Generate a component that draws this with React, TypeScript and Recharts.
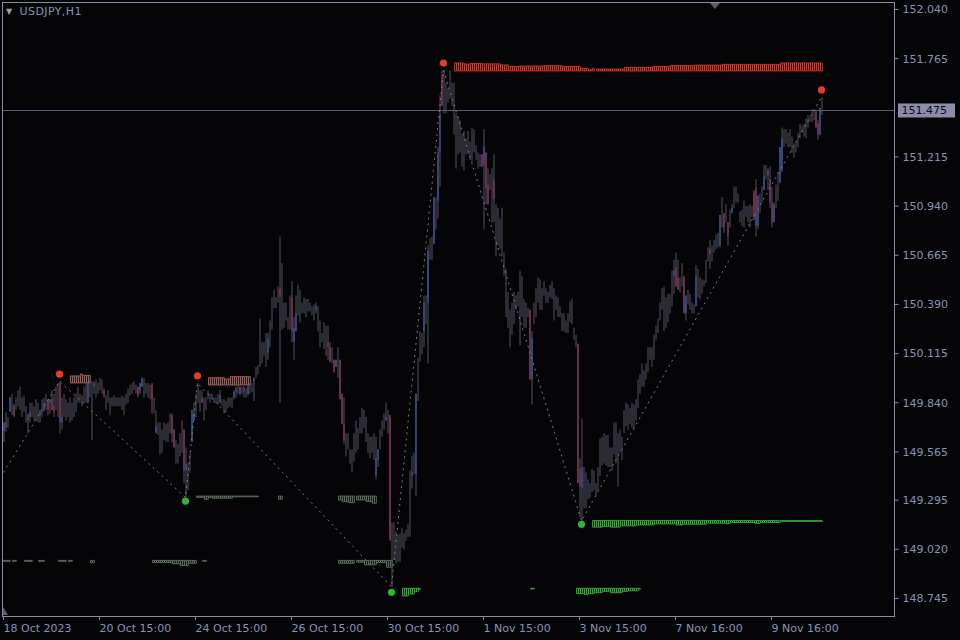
import React from 'react';
import { ComposedChart, Bar, Line, Scatter, XAxis, YAxis, ReferenceLine } from 'recharts';

// USDJPY H1, one entry per bar (18 Oct 15:00 .. 10 Nov)
const highs = [
  149.73, 149.79, 149.76, 149.87, 149.89, 149.83, 149.87, 149.91, 149.93, 149.87,
  149.88, 149.82, 149.78, 149.84, 149.84, 149.82, 149.86, 149.84, 149.80, 149.86,
  149.87, 149.89, 149.86, 149.86, 149.91, 149.89, 149.93, 149.95, 149.96, 149.87,
  149.89, 149.86, 149.84, 149.87, 149.84, 149.87, 149.89, 149.93, 149.89, 149.88,
  149.93, 149.95, 149.95, 149.98, 149.96, 149.96, 149.97, 149.95, 149.98, 149.97,
  149.92, 149.88, 149.91, 149.87, 149.87, 149.88, 149.87, 149.87, 149.87, 149.88,
  149.87, 149.89, 149.92, 149.94, 149.95, 149.96, 149.94, 149.93, 149.95, 149.98,
  149.98, 149.95, 149.95, 149.94, 149.94, 149.87, 149.80, 149.73, 149.73, 149.69,
  149.73, 149.72, 149.73, 149.78, 149.77, 149.69, 149.63, 149.61, 149.67, 149.74,
  149.69, 149.59, 149.50, 149.56, 149.80, 149.84, 149.89, 149.95, 149.91, 149.91,
  149.87, 149.87, 149.91, 149.89, 149.89, 149.87, 149.87, 149.89, 149.91, 149.86,
  149.86, 149.85, 149.87, 149.87, 149.87, 149.91, 149.92, 149.94, 149.93, 149.93,
  149.93, 149.92, 149.93, 149.95, 149.95, 149.98, 150.04, 150.05, 150.31, 150.18,
  150.18, 150.23, 150.23, 150.30, 150.43, 150.47, 150.43, 150.49, 150.77, 150.62,
  150.40, 150.40, 150.32, 150.44, 150.52, 150.32, 150.44, 150.50, 150.47, 150.40,
  150.43, 150.42, 150.42, 150.40, 150.38, 150.39, 150.40, 150.38, 150.30, 150.23,
  150.29, 150.27, 150.27, 150.18, 150.15, 150.08, 150.08, 150.15, 150.08, 149.89,
  149.87, 149.67, 149.67, 149.58, 149.58, 149.67, 149.74, 149.70, 149.76, 149.81,
  149.80, 149.76, 149.67, 149.65, 149.65, 149.67, 149.65, 149.58, 149.69, 149.74,
  149.78, 149.84, 149.80, 149.77, 149.17, 149.17, 149.12, 149.10, 149.11, 149.14,
  149.11, 149.13, 149.16, 149.46, 149.54, 149.56, 149.89, 150.09, 150.24, 150.23,
  150.44, 150.44, 150.72, 150.76, 150.77, 150.99, 150.99, 151.27, 151.56, 151.70,
  151.70, 151.63, 151.60, 151.70, 151.63, 151.63, 151.46, 151.44, 151.42, 151.34,
  151.36, 151.32, 151.36, 151.30, 151.38, 151.37, 151.28, 151.24, 151.23, 151.23,
  151.37, 151.24, 151.15, 151.12, 151.15, 151.23, 150.95, 150.93, 150.87, 150.93,
  150.68, 150.59, 150.46, 150.36, 150.40, 150.46, 150.44, 150.46, 150.58, 150.55,
  150.42, 150.40, 150.37, 150.36, 150.24, 150.40, 150.48, 150.54, 150.53, 150.48,
  150.52, 150.48, 150.46, 150.50, 150.52, 150.48, 150.44, 150.43, 150.38, 150.34,
  150.34, 150.30, 150.34, 150.41, 150.42, 150.26, 150.22, 150.17, 149.53, 149.75,
  149.48, 149.45, 149.41, 149.39, 149.47, 149.46, 149.39, 149.48, 149.64, 149.65,
  149.67, 149.66, 149.66, 149.59, 149.59, 149.73, 149.73, 149.67, 149.69, 149.65,
  149.80, 149.84, 149.83, 149.81, 149.84, 149.83, 149.86, 149.97, 150.00, 150.06,
  150.02, 150.06, 150.15, 150.15, 150.15, 150.22, 150.27, 150.31, 150.40, 150.48,
  150.49, 150.43, 150.45, 150.45, 150.58, 150.64, 150.68, 150.64, 150.54, 150.62,
  150.55, 150.44, 150.47, 150.45, 150.40, 150.39, 150.61, 150.59, 150.54, 150.53,
  150.53, 150.64, 150.71, 150.75, 150.72, 150.75, 150.78, 150.79, 150.89, 150.99,
  150.90, 150.95, 150.85, 150.92, 150.95, 151.05, 151.05, 151.01, 150.91, 150.92,
  150.97, 150.94, 150.94, 150.95, 150.94, 151.03, 151.09, 151.00, 151.01, 151.05,
  151.17, 151.17, 151.15, 151.16, 151.05, 150.96, 151.06, 151.13, 151.27, 151.38,
  151.37, 151.37, 151.35, 151.37, 151.33, 151.29, 151.30, 151.35, 151.40, 151.39,
  151.40, 151.43, 151.45, 151.44, 151.48, 151.48, 151.47, 151.42, 151.49, 151.55,
];

const lows = [
  149.62, 149.68, 149.70, 149.79, 149.77, 149.76, 149.80, 149.82, 149.80, 149.76,
  149.79, 149.73, 149.67, 149.73, 149.76, 149.74, 149.74, 149.73, 149.73, 149.76,
  149.79, 149.80, 149.77, 149.78, 149.80, 149.76, 149.80, 149.76, 149.67, 149.69,
  149.76, 149.74, 149.76, 149.73, 149.74, 149.76, 149.79, 149.84, 149.84, 149.82,
  149.84, 149.84, 149.84, 149.87, 149.63, 149.89, 149.87, 149.89, 149.91, 149.89,
  149.87, 149.80, 149.84, 149.77, 149.82, 149.82, 149.82, 149.82, 149.82, 149.80,
  149.77, 149.83, 149.84, 149.88, 149.89, 149.91, 149.89, 149.87, 149.89, 149.93,
  149.87, 149.89, 149.87, 149.86, 149.86, 149.78, 149.67, 149.66, 149.55, 149.56,
  149.63, 149.62, 149.62, 149.67, 149.62, 149.59, 149.50, 149.50, 149.54, 149.56,
  149.39, 149.31, 149.35, 149.45, 149.62, 149.74, 149.76, 149.84, 149.79, 149.84,
  149.74, 149.80, 149.86, 149.84, 149.86, 149.84, 149.84, 149.83, 149.84, 149.82,
  149.78, 149.79, 149.81, 149.82, 149.81, 149.86, 149.87, 149.89, 149.88, 149.89,
  149.87, 149.87, 149.88, 149.89, 149.90, 149.85, 149.98, 150.00, 150.04, 150.06,
  150.10, 150.04, 150.08, 150.15, 150.25, 150.37, 150.37, 150.40, 149.84, 150.25,
  150.26, 150.30, 150.25, 150.25, 150.18, 150.08, 150.24, 150.33, 150.29, 150.34,
  150.34, 150.32, 150.35, 150.35, 150.33, 150.30, 150.34, 150.24, 150.15, 150.18,
  150.14, 150.10, 150.08, 150.07, 150.06, 150.01, 150.04, 149.98, 149.86, 149.72,
  149.61, 149.54, 149.58, 149.50, 149.45, 149.51, 149.56, 149.58, 149.67, 149.67,
  149.70, 149.62, 149.56, 149.53, 149.56, 149.52, 149.41, 149.48, 149.58, 149.65,
  149.69, 149.74, 149.67, 149.07, 148.81, 148.96, 148.94, 148.95, 148.95, 149.03,
  149.02, 149.07, 149.09, 149.09, 149.36, 149.44, 149.32, 149.85, 150.07, 150.11,
  150.15, 150.28, 150.06, 150.64, 150.64, 150.73, 150.81, 150.87, 151.05, 151.50,
  151.46, 151.46, 151.52, 151.54, 151.50, 151.34, 151.15, 151.23, 151.24, 151.16,
  151.14, 151.23, 151.23, 151.20, 151.19, 151.24, 151.20, 151.15, 151.16, 151.16,
  150.81, 150.95, 150.95, 151.03, 150.85, 150.85, 150.66, 150.72, 150.70, 150.66,
  150.55, 150.32, 150.26, 150.15, 150.22, 150.28, 150.36, 150.38, 150.16, 150.32,
  150.26, 150.26, 150.32, 149.97, 149.83, 150.28, 150.32, 150.40, 150.36, 150.36,
  150.44, 150.40, 150.40, 150.43, 150.42, 150.30, 150.36, 150.32, 150.32, 150.24,
  150.24, 150.23, 150.23, 150.29, 150.28, 150.19, 150.15, 149.39, 149.20, 149.18,
  149.25, 149.25, 149.30, 149.31, 149.34, 149.35, 149.32, 149.35, 149.43, 149.49,
  149.50, 149.49, 149.48, 149.48, 149.46, 149.55, 149.50, 149.37, 149.56, 149.52,
  149.67, 149.71, 149.69, 149.72, 149.70, 149.69, 149.74, 149.81, 149.89, 149.93,
  149.93, 149.97, 150.01, 150.08, 150.04, 150.08, 150.19, 150.23, 150.30, 150.36,
  150.24, 150.26, 150.29, 150.34, 150.38, 150.45, 150.49, 150.47, 150.46, 150.49,
  150.34, 150.30, 150.39, 150.36, 150.34, 150.34, 150.38, 150.43, 150.42, 150.45,
  150.49, 150.51, 150.63, 150.59, 150.63, 150.68, 150.70, 150.71, 150.71, 150.82,
  150.79, 150.85, 150.72, 150.82, 150.90, 150.93, 150.96, 150.96, 150.85, 150.83,
  150.82, 150.88, 150.85, 150.82, 150.88, 150.86, 150.77, 150.81, 150.90, 150.96,
  151.03, 151.09, 151.03, 150.93, 150.82, 150.85, 150.93, 150.97, 151.07, 151.13,
  151.27, 151.29, 151.27, 151.27, 151.24, 151.21, 151.24, 151.27, 151.32, 151.35,
  151.33, 151.32, 151.38, 151.41, 151.41, 151.42, 151.38, 151.31, 151.34, 151.45,
];

// coloured parts of some bars: [bar, from, to]
const downBodies = [
  [1, 149.70, 149.73], [5, 149.77, 149.83], [12, 149.74, 149.77], [22, 149.80, 149.86],
  [24, 149.80, 149.86], [25, 149.79, 149.82], [28, 149.73, 149.95], [45, 149.93, 149.95],
  [50, 149.88, 149.91], [67, 149.88, 149.93], [74, 149.78, 149.95], [84, 149.67, 149.78],
  [85, 149.59, 149.69], [90, 149.46, 149.69], [99, 149.84, 149.87], [116, 149.90, 149.93],
  [120, 149.90, 149.93], [138, 150.43, 150.48], [144, 150.24, 150.43], [162, 150.15, 150.18],
  [163, 150.07, 150.15], [165, 150.01, 150.08], [168, 149.86, 150.08], [169, 149.72, 149.89],
  [170, 149.63, 149.72], [193, 149.07, 149.77], [204, 149.43, 149.45], [219, 151.50, 151.67],
  [239, 151.16, 151.23], [241, 151.04, 151.24], [242, 150.95, 151.06], [245, 150.98, 151.09],
  [263, 149.97, 150.36], [287, 149.39, 150.17], [288, 149.37, 149.47], [336, 150.49, 150.60],
  [337, 150.47, 150.54], [340, 150.34, 150.54], [353, 150.67, 150.70], [360, 150.82, 150.90],
  [362, 150.77, 150.85], [375, 150.87, 151.02], [376, 150.90, 151.04], [382, 151.11, 151.14],
  [383, 150.96, 151.09], [384, 150.85, 150.96], [406, 151.38, 151.47], [407, 151.34, 151.40],
];
const upBodies = [
  [0, 149.68, 149.73], [3, 149.79, 149.87], [13, 149.76, 149.79], [18, 149.77, 149.79],
  [20, 149.80, 149.84], [23, 149.84, 149.86], [29, 149.73, 149.76], [42, 149.84, 149.95],
  [68, 149.91, 149.95], [69, 149.93, 149.98], [76, 149.67, 149.71], [91, 149.46, 149.50],
  [94, 149.62, 149.80], [95, 149.74, 149.78], [108, 149.84, 149.88], [115, 149.87, 149.90],
  [118, 149.89, 149.93], [122, 149.89, 149.94], [125, 149.96, 149.98], [132, 150.12, 150.20],
  [145, 150.18, 150.26], [146, 150.24, 150.34], [156, 150.36, 150.38], [166, 150.04, 150.08],
  [186, 149.43, 149.53], [187, 149.52, 149.58], [191, 149.74, 149.76], [206, 149.44, 149.89],
  [210, 150.24, 150.40], [212, 150.40, 150.69], [215, 150.73, 150.99], [217, 150.97, 151.24],
  [218, 151.24, 151.45], [240, 151.17, 151.27], [264, 149.97, 150.20], [289, 149.36, 149.48],
  [335, 150.55, 150.58], [341, 150.34, 150.44], [346, 150.38, 150.55], [358, 150.72, 150.89],
  [364, 150.90, 150.93], [376, 150.83, 150.90], [377, 150.83, 151.00], [380, 151.03, 151.11],
  [385, 150.85, 150.95], [388, 151.07, 151.27], [389, 151.14, 151.32], [408, 151.34, 151.49],
];

// zigzag swings
const swingBars = [0, 28, 91, 97, 194, 220, 289, 409];
const swingPrices = [149.45, 149.96, 149.31, 149.95, 148.81, 151.70, 149.18, 151.55];

const sellBars = [28, 97, 220, 409];
const sellPrices = [150.0, 149.99, 151.74, 151.59];
const buyBars = [91, 194, 289];
const buyPrices = [149.29, 148.78, 149.16];

// level histograms: [fromBar, toBar, edge]
const resistBase = 151.696;
const resistRuns = [
  [226, 230, 151.741], [231, 233, 151.735], [234, 239, 151.738], [240, 248, 151.736],
  [249, 252, 151.73], [253, 258, 151.722], [259, 270, 151.724], [271, 279, 151.726],
  [280, 288, 151.722], [289, 292, 151.711], [293, 294, 151.703], [295, 295, 151.711],
  [297, 310, 151.707], [311, 324, 151.716], [325, 333, 151.722], [334, 345, 151.727],
  [346, 359, 151.729], [360, 388, 151.733], [389, 409, 151.741],
];
const supportBase = 149.181;
const supportRuns = [
  [295, 299, 149.144], [300, 303, 149.147], [304, 308, 149.144], [309, 316, 149.151],
  [317, 325, 149.156], [326, 336, 149.162], [337, 339, 149.156], [340, 351, 149.16],
  [352, 361, 149.166], [362, 363, 149.163], [364, 375, 149.17], [376, 378, 149.165],
  [379, 388, 149.17], [389, 409, 149.176],
];
const floorBase = 148.802;
const floorRuns = [
  [200, 202, 148.759], [203, 205, 148.77], [206, 207, 148.783], [208, 208, 148.795],
  [264, 265, 148.798], [287, 290, 148.772], [291, 292, 148.768], [293, 295, 148.772],
  [296, 299, 148.777], [300, 303, 148.785], [304, 309, 148.777], [310, 312, 148.785],
  [313, 317, 148.788], [318, 318, 148.797],
];
const oldSupportBase = 149.318;
const oldSupportRuns = [
  [97, 100, 149.311], [101, 102, 149.3], [103, 104, 149.311], [105, 114, 149.306],
  [115, 127, 149.314], [138, 139, 149.3], [168, 169, 149.296], [170, 172, 149.287],
  [173, 175, 149.281], [177, 181, 149.296], [182, 184, 149.287], [185, 186, 149.278],
];
const oldFloorBase = 148.958;
const oldFloorRuns = [
  [0, 3, 148.953], [5, 6, 148.953], [11, 14, 148.953], [18, 20, 148.953], [28, 31, 148.953],
  [33, 34, 148.953], [44, 45, 148.945], [75, 84, 148.946], [85, 88, 148.939], [89, 92, 148.929],
  [93, 96, 148.942], [100, 101, 148.953], [168, 175, 148.942], [177, 180, 148.948],
  [181, 186, 148.933], [187, 191, 148.946], [192, 194, 148.92],
];
const oldResistLeftBase = 149.951;
const oldResistLeftRuns = [[34, 38, 149.99], [39, 39, 150.001], [40, 43, 149.993]];
const oldResistRightBase = 149.939;
const oldResistRightRuns = [[103, 110, 149.98], [111, 113, 149.973], [114, 123, 149.986]];

const tickBars = [0, 48, 96, 144, 192, 240, 288, 336, 384];
const tickLabels = ['18 Oct 2023', '20 Oct 15:00', '24 Oct 15:00', '26 Oct 15:00', '30 Oct 15:00', '1 Nov 15:00', '3 Nov 15:00', '7 Nov 16:00', '9 Nov 16:00'];
const priceTicks = [152.04, 151.765, 151.215, 150.94, 150.665, 150.39, 150.115, 149.84, 149.565, 149.295, 149.02, 148.745];
const bid = 151.475;

const SLOTS = 446; // bars plus the empty chart shift on the right

const fromRuns = (runs: number[][], base: number, out: any[] = new Array(SLOTS).fill(null)) => {
  runs.forEach(([a, b, v]) => {
    for (let i = a; i <= b; i++) out[i] = [Math.min(base, v), Math.max(base, v)];
  });
  return out;
};
const fromBodies = (list: number[][]) => {
  const out: any[] = new Array(SLOTS).fill(null);
  list.forEach(([i, a, b]) => { out[i] = [a, b]; });
  return out;
};

const resistCol = fromRuns(resistRuns, resistBase);
const supportCol = fromRuns(supportRuns, supportBase);
const floorCol = fromRuns(floorRuns, floorBase);
const oldSupportCol = fromRuns(oldSupportRuns, oldSupportBase);
const oldFloorCol = fromRuns(oldFloorRuns, oldFloorBase);
const oldResistCol = fromRuns(oldResistRightRuns, oldResistRightBase, fromRuns(oldResistLeftRuns, oldResistLeftBase));
const downCol = fromBodies(downBodies);
const upCol = fromBodies(upBodies);

const rows = Array.from({ length: SLOTS }, (_, i) => ({
  i,
  bar: i < highs.length ? [lows[i], highs[i]] : null,
  down: downCol[i],
  up: upCol[i],
  zig: swingBars.includes(i) ? swingPrices[swingBars.indexOf(i)] : null,
  sell: sellBars.includes(i) ? sellPrices[sellBars.indexOf(i)] : null,
  buy: buyBars.includes(i) ? buyPrices[buyBars.indexOf(i)] : null,
  resist: resistCol[i],
  support: supportCol[i],
  floor: floorCol[i],
  oldSupport: oldSupportCol[i],
  oldFloor: oldFloorCol[i],
  oldResist: oldResistCol[i],
}));

const FONT = 'DejaVu Sans';
const TEXT = '#8a92b4';
const FRAME = '#8a8aa8';

const dot = (key: string, color: string) => (p: any) =>
  p.payload && p.payload[key] != null && Number.isFinite(p.cy)
    ? <circle cx={p.cx} cy={p.cy} r={3.6} fill={color} />
    : <g />;

const BidTag = (p: any) => {
  const vb = p.viewBox || p;
  const x = vb.x + vb.width;
  return (
    <g>
      <rect x={x + 3.5} y={vb.y - 7} width={57} height={14} fill="#8c8caa" />
      <text x={x + 7} y={vb.y + 4} fontSize={11} fontFamily={FONT} fill="#0a0a14">{bid.toFixed(3)}</text>
    </g>
  );
};

const hidden = ['body1', 'body2', 'h1', 'h2', 'h3', 'h4', 'h5', 'h6'];

export default function App() {
  return (
    <div style={{ position: 'fixed', left: 0, top: 0, width: 960, height: 640, background: '#050508', overflow: 'hidden' }}>
      <ComposedChart width={960} height={640} data={rows} margin={{ top: 2.5, right: 0, bottom: 0, left: 2.5 }}>
        {hidden.map((id) => <XAxis key={id} xAxisId={id} dataKey="i" height={0} hide />)}
        <XAxis
          xAxisId="main"
          dataKey="i"
          height={24}
          ticks={tickBars}
          interval={0}
          tickFormatter={(v) => tickLabels[tickBars.indexOf(v)]}
          axisLine={false}
          tickLine={{ stroke: FRAME }}
          tickSize={4}
          tickMargin={4}
          tick={{ fill: TEXT, fontSize: 11, fontFamily: FONT, textAnchor: 'start' }}
        />
        <YAxis
          orientation="right"
          type="number"
          domain={[148.647, 152.079]}
          allowDataOverflow
          ticks={priceTicks}
          interval={0}
          width={65.5}
          axisLine={false}
          tickLine={{ stroke: FRAME }}
          tickSize={4}
          tickMargin={4}
          tickFormatter={(v) => v.toFixed(3)}
          tick={{ fill: TEXT, fontSize: 11, fontFamily: FONT }}
        />
        <ReferenceLine xAxisId="main" y={bid} stroke="#5c5c74" label={(p: any) => <BidTag {...p} />} />

        <Bar xAxisId="h1" dataKey="resist" barSize={2} fill="none" stroke="#e03a28" strokeOpacity={0.85} isAnimationActive={false} />
        <Bar xAxisId="h2" dataKey="support" barSize={2} fill="none" stroke="#3ab53a" strokeOpacity={0.85} isAnimationActive={false} />
        <Bar xAxisId="h3" dataKey="floor" barSize={2} fill="none" stroke="#3ab53a" strokeOpacity={0.85} isAnimationActive={false} />
        <Bar xAxisId="h4" dataKey="oldSupport" barSize={2} fill="none" stroke="#5b6b5b" isAnimationActive={false} />
        <Bar xAxisId="h5" dataKey="oldFloor" barSize={2} fill="none" stroke="#5b6b5b" isAnimationActive={false} />
        <Bar xAxisId="h6" dataKey="oldResist" barSize={2} fill="none" stroke="#9c5f5a" isAnimationActive={false} />

        <Bar xAxisId="main" dataKey="bar" barSize={1} fill="#535361" isAnimationActive={false} />
        <Bar xAxisId="body1" dataKey="down" barSize={1} fill="#a83460" isAnimationActive={false} />
        <Bar xAxisId="body2" dataKey="up" barSize={1} fill="#3c64b8" isAnimationActive={false} />

        <Line xAxisId="main" dataKey="zig" connectNulls stroke="#7a7a7e" strokeDasharray="2 4" dot={false} activeDot={false} isAnimationActive={false} />
        <Scatter xAxisId="main" dataKey="sell" shape={dot('sell', '#e8392a')} isAnimationActive={false} />
        <Scatter xAxisId="main" dataKey="buy" shape={dot('buy', '#2fb52f')} isAnimationActive={false} />
      </ComposedChart>

      <div style={{ position: 'absolute', left: 2, top: 2, width: 893, height: 615, border: `1px solid ${FRAME}`, boxSizing: 'border-box', pointerEvents: 'none' }} />
      <div style={{ position: 'absolute', left: 6, top: 5, fontFamily: FONT, fontSize: 11, color: TEXT, whiteSpace: 'nowrap', letterSpacing: 0.4 }}>
        <span style={{ fontSize: 8, color: '#a0a0a8', marginRight: 7, position: 'relative', top: -1 }}>▼</span>USDJPY,H1
      </div>
      <div style={{ position: 'absolute', left: 710, top: 3, width: 0, height: 0, borderLeft: '5px solid transparent', borderRight: '5px solid transparent', borderTop: '6px solid #5c5c6c' }} />
      <div style={{ position: 'absolute', left: 3, top: 607, width: 0, height: 0, borderBottom: '8px solid #5c5c6c', borderRight: '5px solid transparent' }} />
    </div>
  );
}
